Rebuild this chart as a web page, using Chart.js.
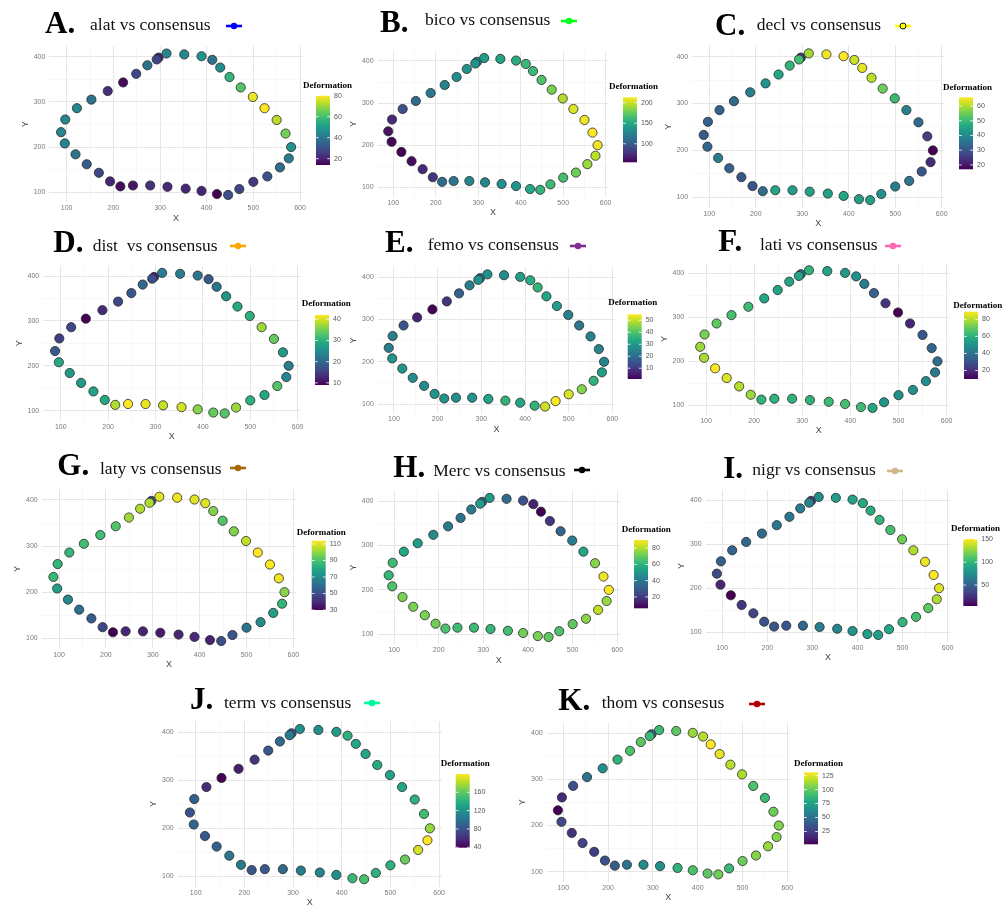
<!DOCTYPE html>
<html><head><meta charset="utf-8">
<script src="https://cdn.jsdelivr.net/npm/chart.js@4.4.1/dist/chart.umd.min.js"></script>
<style>
html,body{margin:0;padding:0;background:#fff;}
body{width:1008px;height:905px;position:relative;overflow:hidden;}
.lt{position:absolute;font:bold 31px/1 "Liberation Serif","Times New Roman",serif;color:#000;white-space:pre;}
.tt{position:absolute;font:17.5px/1 "Liberation Serif","Times New Roman",serif;color:#111;white-space:pre;}
canvas,svg{position:absolute;}
</style></head><body>
<script>
// ---------- DATA ----------
// landmark coordinates of the consensus shape (first one is hidden behind its neighbour)
const landmarkX = [297, 88, 97, 122, 153, 188, 221, 249, 273, 293, 314, 352, 389, 412, 429, 449, 473, 499, 524, 550, 569, 581, 576, 557, 530, 500, 470, 446, 422, 389, 355, 316, 279, 242, 215, 193, 169, 143, 119, 96];
const landmarkY = [398, 233, 261, 286, 305, 324, 343, 362, 381, 394, 407, 405, 401, 393, 376, 355, 332, 311, 286, 260, 230, 200, 175, 155, 135, 123, 107, 94, 96, 103, 108, 112, 115, 115, 113, 124, 143, 162, 184, 208];

const alatDeformation = [20, 44, 44, 44, 39, 23, 16, 28, 39, 27, 44, 45, 48, 39, 46, 57, 62, 78, 80, 73, 66, 47, 42, 38, 31, 25, 27, 30, 14, 21, 21, 22, 23, 18, 16, 21, 28, 33, 40, 44];
const bicoDeformation = [130, 63, 74, 95, 110, 118, 126, 131, 134, 134, 142, 147, 153, 161, 161, 169, 181, 194, 205, 210, 213, 210, 197, 189, 178, 166, 162, 158, 150, 137, 134, 129, 126, 118, 110, 79, 74, 60, 55, 58];
const declDeformation = [25, 31, 32, 32, 34, 38, 42, 46, 49, 51, 59, 65, 66, 62, 64, 61, 55, 50, 39, 34, 26, 17, 23, 30, 36, 38, 42, 45, 45, 46, 45, 45, 44, 46, 34, 30, 30, 32, 38, 33];
const distDeformation = [12, 18, 15, 16, 9, 13, 16, 18, 20, 17, 23, 23, 22, 18, 22, 26, 29, 30, 37, 34, 27, 23, 24, 33, 29, 30, 37, 33, 34, 36, 40, 39, 41, 42, 38, 29, 28, 27, 27, 29];
const femoDeformation = [20, 24, 24, 15, 6, 1, 9, 18, 24, 28, 28, 27, 31, 34, 36, 33, 31, 25, 22, 25, 25, 25, 31, 36, 45, 52, 55, 51, 36, 33, 36, 32, 29, 28, 29, 29, 27, 27, 29, 29];
const latiDeformation = [40, 77, 73, 69, 65, 64, 57, 56, 56, 56, 61, 56, 53, 50, 43, 35, 22, 10, 19, 31, 35, 38, 42, 48, 50, 50, 51, 57, 64, 65, 64, 61, 61, 61, 61, 77, 80, 85, 89, 79];
const latyDeformation = [50, 86, 85, 85, 88, 88, 91, 102, 104, 104, 110, 112, 110, 110, 98, 91, 98, 106, 114, 114, 112, 99, 85, 77, 71, 63, 52, 50, 38, 40, 39, 36, 39, 39, 30, 48, 54, 61, 69, 77];
const mercDeformation = [30, 61, 63, 56, 52, 46, 41, 38, 41, 52, 52, 35, 27, 14, 6, 19, 33, 41, 56, 75, 88, 90, 77, 82, 75, 69, 66, 69, 73, 72, 65, 61, 63, 63, 66, 72, 73, 73, 73, 66];
const nigrDeformation = [30, 36, 48, 51, 53, 55, 63, 63, 66, 70, 75, 85, 89, 92, 95, 100, 107, 119, 133, 147, 151, 144, 133, 114, 107, 100, 92, 85, 85, 78, 70, 66, 53, 44, 41, 41, 33, 26, 4, 19];
const termDeformation = [80, 79, 87, 58, 39, 52, 63, 82, 95, 106, 119, 119, 126, 142, 134, 134, 138, 131, 134, 142, 150, 174, 200, 190, 163, 142, 142, 153, 147, 119, 111, 106, 95, 84, 82, 106, 103, 90, 84, 91];
const thomDeformation = [40, 2, 17, 34, 51, 66, 85, 94, 98, 88, 89, 98, 111, 117, 131, 126, 117, 115, 94, 89, 102, 107, 107, 111, 107, 102, 89, 102, 98, 94, 85, 66, 63, 51, 40, 34, 25, 28, 21, 30];

// colour-bar tick labels
const alatTicks = [20, 40, 60, 80];
const bicoTicks = [100, 150, 200];
const declTicks = [20, 30, 40, 50, 60];
const distTicks = [10, 20, 30, 40];
const femoTicks = [10, 20, 30, 40, 50];
const latiTicks = [20, 40, 60, 80];
const latyTicks = [30, 50, 70, 90, 110];
const mercTicks = [20, 40, 60, 80];
const nigrTicks = [50, 100, 150];
const termTicks = [40, 80, 120, 160];
const thomTicks = [25, 50, 75, 100, 125];

// axis ticks
const xMajorTicks = [100, 200, 300, 400, 500, 600];
const xMinorTicks = [150, 250, 350, 450, 550];
const yMajorTicks = [100, 200, 300, 400];
const yMinorTicks = [150, 250, 350];

const panelLetters = ['A.', 'B.', 'C.', 'D.', 'E.', 'F.', 'G.', 'H.', 'I.', 'J.', 'K.'];
const panelTitles = ['alat vs consensus', 'bico vs consensus', 'decl vs consensus', 'dist  vs consensus', 'femo vs consensus', 'lati vs consensus', 'laty vs consensus', 'Merc vs consensus', 'nigr vs consensus', 'term vs consensus', 'thom vs consesus'];
const panelValues = [alatDeformation, bicoDeformation, declDeformation, distDeformation, femoDeformation, latiDeformation, latyDeformation, mercDeformation, nigrDeformation, termDeformation, thomDeformation];
const panelTicks = [alatTicks, bicoTicks, declTicks, distTicks, femoTicks, latiTicks, latyTicks, mercTicks, nigrTicks, termTicks, thomTicks];

// ---------- STYLE / LAYOUT ----------
const markerColors = ['#0000ff', '#00ff1a', '#ffff00', '#ffa500', '#7e2f8e', '#ff69b4', '#a66a0a', '#000000', '#d2b48c', '#00fa9a', '#b00000'];
const layout = [
  {plot:[49.4,46.3,302.8,202.2], cb:[316,95.7,165], cbt:[303,88], letter:[45,33.3], text:[90,30.7], mark:[234,25.7]},
  {plot:[377.6,51.3,608.2,196.6], cb:[623,97.3,162.3], cbt:[609,89], letter:[380,31.7], text:[425,26], mark:[569,20.7]},
  {plot:[692.1,45.9,944.5,207.6], cb:[959,97.3,169.3], cbt:[943,89.7], letter:[715,35], text:[756.7,30.7], mark:[902.5,25.7]},
  {plot:[43.2,265.7,300.5,420.6], cb:[315,315,385], cbt:[301.7,306.3], letter:[53.3,251.7], text:[92.7,251.7], mark:[238,245.7]},
  {plot:[377.8,267.6,615,413.3], cb:[627.7,314.3,379], cbt:[608.3,305.3], letter:[385,252.3], text:[427.7,251], mark:[578.3,245.7]},
  {plot:[688.2,263.2,949.5,415], cb:[964,311.7,379], cbt:[953.3,308], letter:[718.3,251], text:[760,251], mark:[893.3,245.7]},
  {plot:[41.7,489.4,296.2,648.4], cb:[311.7,540.7,610], cbt:[296.7,535.3], letter:[57.3,475], text:[100,474.3], mark:[238,468.3]},
  {plot:[377.5,490.8,620,644.1], cb:[634,540,608.3], cbt:[621.7,532], letter:[393.3,476.7], text:[433.3,476.7], mark:[581.7,470]},
  {plot:[705.6,489.9,950.3,642], cb:[963.3,539,606], cbt:[951,530.7], letter:[723.3,478.3], text:[752.3,475.7], mark:[894.5,471]},
  {plot:[177.7,721.3,442,886.9], cb:[455.7,774,847.7], cbt:[440.7,766.3], letter:[190,709], text:[224,708.3], mark:[371.7,703.3]},
  {plot:[546.7,722.7,790,881.8], cb:[804,772.3,844.3], cbt:[794,765.7], letter:[558.3,710], text:[601.7,709], mark:[757,704]}
];
const X_MIN = 63, X_MAX = 606, Y_MIN = 78, Y_MAX = 423;
const CB_W = 14;

const VIRIDIS = ['#440154','#482475','#414487','#355f8d','#2a788e','#21918c','#22a884','#44bf70','#7ad151','#bddf26','#fde725'];
function hexRgb(h){return [parseInt(h.slice(1,3),16),parseInt(h.slice(3,5),16),parseInt(h.slice(5,7),16)];}
function viridis(t){
  t = Math.max(0, Math.min(1, t));
  const s = t * 10, i = Math.min(9, Math.floor(s)), f = s - i;
  const a = hexRgb(VIRIDIS[i]), b = hexRgb(VIRIDIS[i+1]);
  return 'rgb(' + a.map((v,k)=>Math.round(v + (b[k]-v)*f)).join(',') + ')';
}

Chart.defaults.font.family = '"Liberation Sans", Arial, sans-serif';

function addTitle(i){
  const L = layout[i];
  const lt = document.createElement('div');
  lt.className = 'lt'; lt.textContent = panelLetters[i];
  lt.style.left = L.letter[0] + 'px'; lt.style.top = (L.letter[1] - 0.8375*31) + 'px';
  document.body.appendChild(lt);
  const tt = document.createElement('div');
  tt.className = 'tt'; tt.textContent = panelTitles[i];
  tt.style.left = L.text[0] + 'px'; tt.style.top = (L.text[1] - 0.8375*17.5) + 'px';
  document.body.appendChild(tt);
  const c = markerColors[i];
  const circ = (i === 2) ? `<circle cx="10" cy="5" r="3" fill="${c}" stroke="#000" stroke-width="0.9"/>`
                         : `<circle cx="10" cy="5" r="3.2" fill="${c}"/>`;
  const svg = `<svg width="20" height="10" style="left:${L.mark[0]-10}px;top:${L.mark[1]-5}px" xmlns="http://www.w3.org/2000/svg"><line x1="2" y1="5" x2="18" y2="5" stroke="${c}" stroke-width="2.6"/>${circ}</svg>`;
  document.body.insertAdjacentHTML('beforeend', svg);
}

function makePanel(i){
  const L = layout[i];
  const vals = panelValues[i];
  const vmin = Math.min(...vals), vmax = Math.max(...vals);
  const [pl, pt, pr, pb] = L.plot;
  const cl = Math.floor(pl) - 32, ct = Math.floor(pt) - 12;
  const cw = Math.ceil(L.cb[0] + 95) - cl;
  const ch = Math.ceil(pb + 22) - ct;
  const canvas = document.createElement('canvas');
  canvas.width = cw; canvas.height = ch;
  canvas.style.left = cl + 'px'; canvas.style.top = ct + 'px';
  canvas.style.width = cw + 'px'; canvas.style.height = ch + 'px';
  document.body.appendChild(canvas);
  const yW = pl - cl, xH = ch - (pb - ct);

  const cbPlugin = {
    id: 'colorbar' + i,
    afterDraw(chart){
      const ctx = chart.ctx;
      const x = L.cb[0] - cl, top = L.cb[1] - ct, bottom = L.cb[2] - ct;
      const g = ctx.createLinearGradient(0, bottom, 0, top);
      VIRIDIS.forEach((c,k)=>g.addColorStop(k/10, c));
      ctx.save();
      ctx.fillStyle = g; ctx.fillRect(x, top, CB_W, bottom - top);
      ctx.strokeStyle = '#fff'; ctx.lineWidth = 0.8;
      ctx.font = '7px "Liberation Sans", Arial, sans-serif';
      ctx.textBaseline = 'middle'; ctx.textAlign = 'left';
      panelTicks[i].forEach(t=>{
        if (t < vmin || t > vmax) return;
        const y = bottom - (t - vmin)/(vmax - vmin)*(bottom - top);
        ctx.beginPath(); ctx.moveTo(x, y); ctx.lineTo(x+2.8, y);
        ctx.moveTo(x+CB_W-2.8, y); ctx.lineTo(x+CB_W, y); ctx.stroke();
        ctx.fillStyle = '#555'; ctx.fillText(String(t), x + CB_W + 4, y);
      });
      ctx.fillStyle = '#000'; ctx.textBaseline = 'alphabetic';
      ctx.font = 'bold 9px "Liberation Serif", "Times New Roman", serif';
      ctx.fillText('Deformation', L.cbt[0] - cl, L.cbt[1] - ct);
      ctx.restore();
    }
  };

  const gridOpt = (minors) => ({
    drawTicks: false,
    color: c => minors.includes(c.tick && c.tick.value) ? '#f1f1f1' : '#e6e6e6',
    lineWidth: c => minors.includes(c.tick && c.tick.value) ? 0.6 : 1
  });

  new Chart(canvas, {
    type: 'scatter',
    data: {
      datasets: [{
        data: landmarkX.map((x,k)=>({x: x, y: landmarkY[k]})),
        backgroundColor: vals.map(v=>viridis((v - vmin)/(vmax - vmin))),
        borderColor: '#2a2a2a',
        borderWidth: 0.8,
        pointRadius: 4.6,
        pointHoverRadius: 4.6
      }]
    },
    options: {
      responsive: false,
      animation: false,
      devicePixelRatio: 1,
      events: [],
      layout: {padding: {left: 0, top: pt - ct, right: cw - (pr - cl), bottom: 0}},
      plugins: {legend: {display: false}, tooltip: {enabled: false}},
      scales: {
        x: {
          type: 'linear', min: X_MIN, max: X_MAX,
          afterBuildTicks: s => { s.ticks = xMajorTicks.concat(xMinorTicks).sort((a,b)=>a-b).map(v=>({value: v})); },
          afterFit: s => { s.height = xH; },
          ticks: {autoSkip: false, maxRotation: 0, padding: 2, color: '#7a7a7a', font: {size: 7},
                  callback: v => xMajorTicks.includes(v) ? String(v) : ''},
          grid: gridOpt(xMinorTicks),
          border: {display: false},
          title: {display: true, text: 'X', color: '#444', font: {size: 9}, padding: {top: 0, bottom: Math.max(0, xH - 16 - 5.4)}}
        },
        y: {
          type: 'linear', min: Y_MIN, max: Y_MAX,
          afterBuildTicks: s => { s.ticks = yMajorTicks.concat(yMinorTicks).sort((a,b)=>a-b).map(v=>({value: v})); },
          afterFit: s => { s.width = yW; },
          ticks: {autoSkip: false, padding: 4, color: '#7a7a7a', font: {size: 7},
                  callback: v => yMajorTicks.includes(v) ? String(v) : ''},
          grid: gridOpt(yMinorTicks),
          border: {display: false},
          title: {display: true, text: 'Y', color: '#444', font: {size: 9}, padding: {top: Math.max(0, yW - 24 - 5.4), bottom: 0}}
        }
      }
    },
    plugins: [cbPlugin]
  });
}

for (let i = 0; i < panelValues.length; i++) { makePanel(i); addTitle(i); }
</script>
</body></html>
